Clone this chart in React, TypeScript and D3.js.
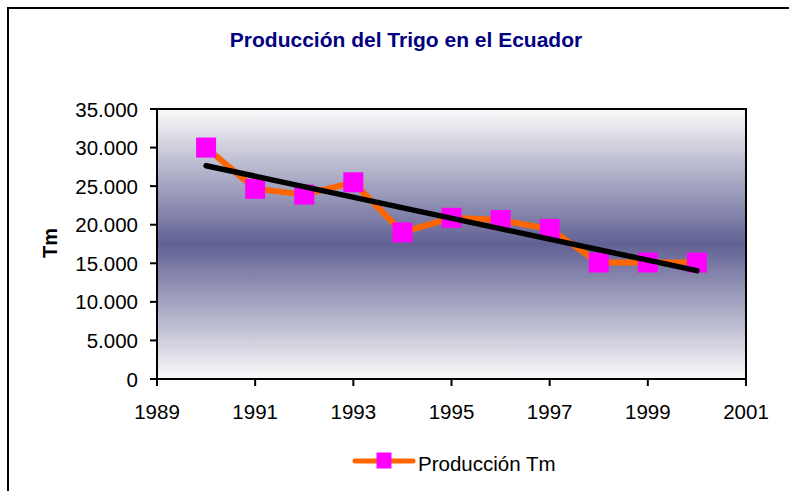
import React from "react";
import * as d3 from "d3";

const years = [1990, 1991, 1992, 1993, 1994, 1995, 1996, 1997, 1998, 1999, 2000];
const produccion = [30000, 24650, 23900, 25500, 19000, 20900, 20600, 19450, 15100, 15100, 15100];
const yTicks = [0, 5000, 10000, 15000, 20000, 25000, 30000, 35000];
const xTicks = [1989, 1991, 1993, 1995, 1997, 1999, 2001];
const title = "Producción del Trigo en el Ecuador";
const yTitle = "Tm";
const seriesName = "Producción Tm";

const W = 789;
const H = 491;
const left = 157;
const right = 746;
const top = 109;
const bottom = 379;

const locale = d3.formatLocale({ decimal: ",", thousands: ".", grouping: [3], currency: ["", ""] });
const fmt = locale.format(",");

export default function App() {
  const x = d3.scaleLinear().domain([1989, 2001]).range([left, right]);
  const y = d3.scaleLinear().domain([0, 35000]).range([bottom, top]);

  const pts = years.map((yr, i) => [yr, produccion[i]] as [number, number]);
  const line = d3
    .line<[number, number]>()
    .x((d) => x(d[0]))
    .y((d) => y(d[1]));

  // linear regression trend
  const mx = d3.mean(years)!;
  const my = d3.mean(produccion)!;
  const sxy = d3.sum(years, (v, i) => (v - mx) * (produccion[i] - my));
  const sxx = d3.sum(years, (v) => (v - mx) * (v - mx));
  const slope = sxy / sxx;
  const icpt = my - slope * mx;
  const x0 = years[0];
  const x1 = years[years.length - 1];
  const trend: [number, number][] = [
    [x0, icpt + slope * x0],
    [x1, icpt + slope * x1],
  ];

  const font = "Arial, 'Liberation Sans', sans-serif";
  const ms = 20;

  return (
    <svg
      width={W}
      height={H}
      style={{ position: "absolute", left: 0, top: 0, background: "#fff" }}
      fontFamily={font}
    >
      <defs>
        <linearGradient id="bg" x1="0" y1="0" x2="0" y2="1">
          <stop offset="0" stopColor="#fafafa" />
          <stop offset="0.5" stopColor="#616194" />
          <stop offset="1" stopColor="#fafafa" />
        </linearGradient>
      </defs>
      <rect x={8} y={8} width={W + 20} height={H + 20} fill="#fff" stroke="#000" strokeWidth={2} />
      <text x={406} y={47} textAnchor="middle" fontSize={21} fontWeight="bold" fill="#000080">
        {title}
      </text>

      <rect x={left} y={top} width={right - left} height={bottom - top} fill="url(#bg)" stroke="#000" strokeWidth={2} />

      {yTicks.map((t) => (
        <g key={"y" + t}>
          <line x1={left - 7} x2={left} y1={y(t)} y2={y(t)} stroke="#000" strokeWidth={2} />
          <text x={138} y={y(t) + 7.5} textAnchor="end" fontSize={20.5} fill="#000">
            {fmt(t)}
          </text>
        </g>
      ))}
      {xTicks.map((t) => (
        <g key={"x" + t}>
          <line x1={x(t)} x2={x(t)} y1={bottom} y2={bottom + 7} stroke="#000" strokeWidth={2} />
          <text x={x(t)} y={419} textAnchor="middle" fontSize={20.5} fill="#000">
            {t}
          </text>
        </g>
      ))}

      <text
        transform={`translate(57,243) rotate(-90)`}
        textAnchor="middle"
        fontSize={20}
        fontWeight="bold"
        fill="#000"
      >
        {yTitle}
      </text>

      <path d={line(pts) || ""} fill="none" stroke="#ff6600" strokeWidth={6} strokeLinejoin="round" />
      {pts.map((d, i) => (
        <rect key={i} x={x(d[0]) - ms / 2} y={y(d[1]) - ms / 2} width={ms} height={ms} fill="#ff00ff" />
      ))}
      <path d={line(trend) || ""} fill="none" stroke="#000" strokeWidth={5.5} strokeLinecap="round" />

      <line x1={355} x2={413} y1={461} y2={461} stroke="#ff6600" strokeWidth={5} strokeLinecap="round" />
      <rect x={376.5} y={452.5} width={15} height={16} fill="#ff00ff" />
      <text x={418} y={471} fontSize={20.5} fill="#000">
        {seriesName}
      </text>
    </svg>
  );
}
